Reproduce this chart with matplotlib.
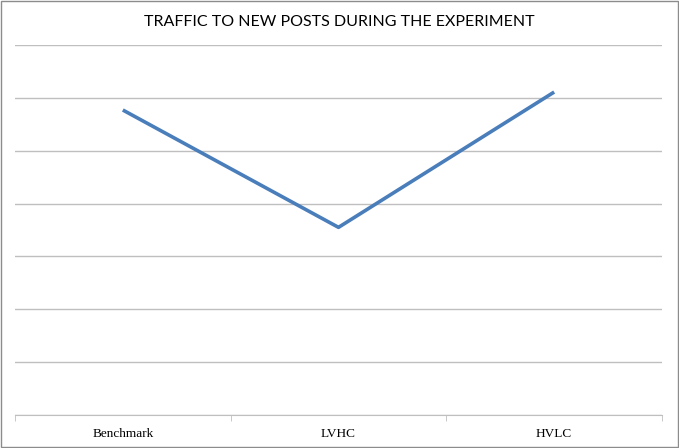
import matplotlib
matplotlib.use("Agg")
import matplotlib.pyplot as plt
from matplotlib.patches import Rectangle

categories = ["Benchmark", "LVHC", "HVLC"]
traffic = [5.77, 3.55, 6.11]

fig = plt.figure(figsize=(6.79, 4.48), dpi=100)
ax = fig.add_axes([15/679, 33/448, 647/679, (415-45)/448])

x = [0.5, 1.5, 2.5]
ax.plot(x, traffic, color="#4a7ebb", linewidth=2.6, solid_capstyle="butt")
ax.set_xlim(0, 3)
ax.set_ylim(0, 7)
ax.set_yticks(range(0, 8))
ax.yaxis.grid(True, color="#bfbfbf", linewidth=1)
ax.tick_params(axis="y", length=0, labelleft=False)
ax.set_xticks([0, 1, 2, 3], minor=True)
ax.set_xticks(x)
ax.set_xticklabels(categories, fontfamily="Liberation Serif", fontsize=9.5)
ax.tick_params(axis="x", which="major", length=0, pad=9)
ax.tick_params(axis="x", which="minor", length=4, color="#bfbfbf")
for s in ["top", "right", "left"]:
    ax.spines[s].set_visible(False)
ax.spines["bottom"].set_color("#bfbfbf")
ax.set_axisbelow(True)

fig.text(0.5, 1 - 22/448, "TRAFFIC TO NEW POSTS DURING THE EXPERIMENT",
         ha="center", va="center", fontsize=11.5, fontfamily="Lato")
fig.patches.append(Rectangle((0.002, 0.002), 0.996, 0.996, transform=fig.transFigure,
                             fill=False, edgecolor="#8c8c8c", linewidth=1))
fig.savefig("out.png", dpi=100)
